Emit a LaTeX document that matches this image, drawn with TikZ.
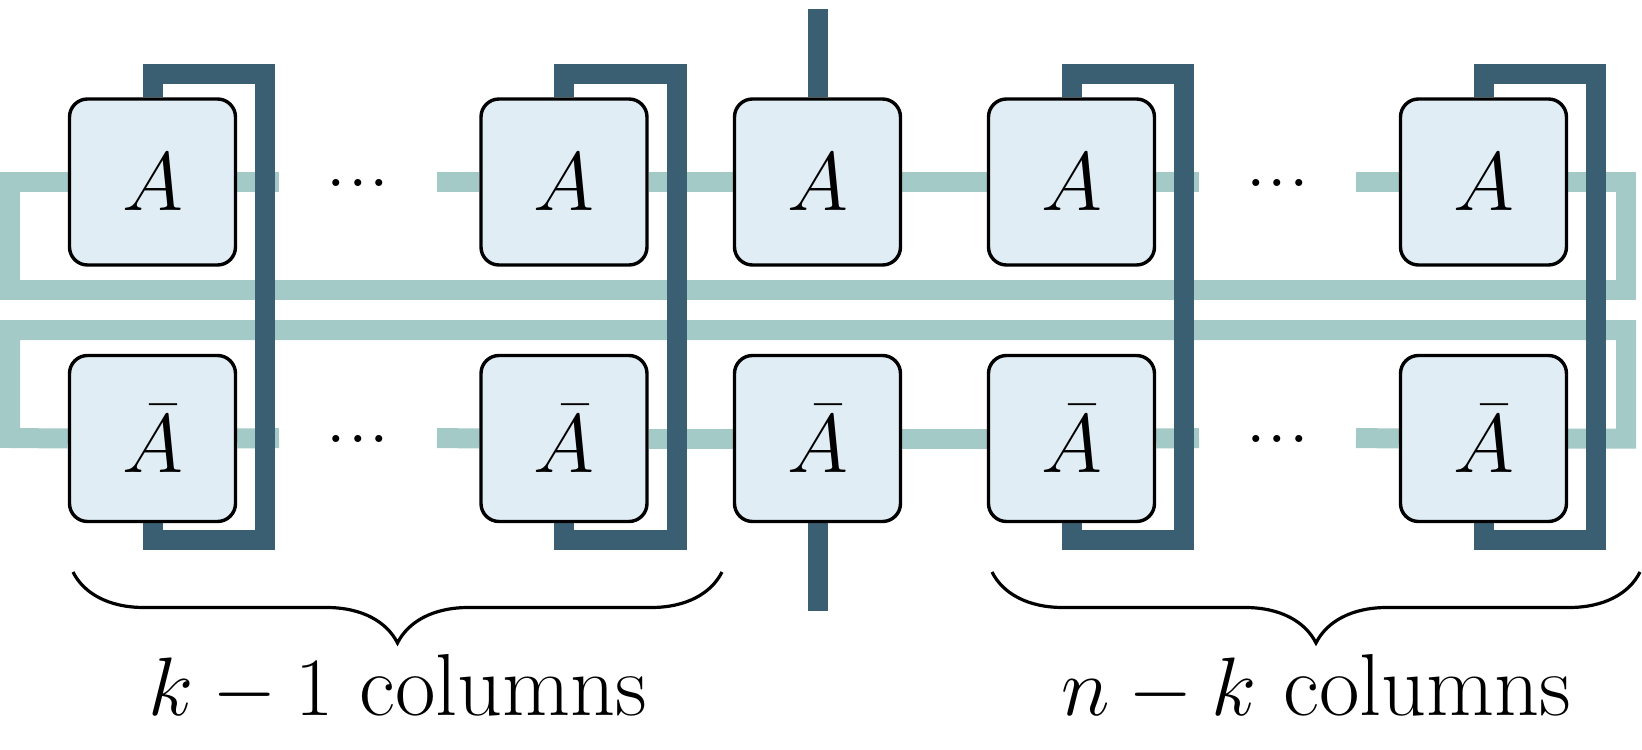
\documentclass[tikz,border=0pt]{standalone}
\usetikzlibrary{decorations.pathreplacing}
\definecolor{tealc}{HTML}{A4CAC8}
\definecolor{darkc}{HTML}{3A5F73}
\definecolor{boxfill}{HTML}{E0EDF5}
\pgfdeclarelayer{bg}
\pgfsetlayers{bg,main}
\begin{document}
\begin{tikzpicture}[x=0.25pt,y=-0.25pt,
  tbox/.style={draw=black,line width=0.85pt,fill=boxfill,rounded corners=4.5pt,
    minimum width=41.5pt,minimum height=41.5pt,inner sep=0pt,
    font=\fontsize{21.75}{25}\selectfont},
  tealline/.style={draw=tealc,line width=5pt},
  darkline/.style={draw=darkc,line width=5pt},
  bracestyle/.style={draw=black,line width=0.8pt,decorate,
    decoration={brace,mirror,amplitude=17.75pt}},
  lbl/.style={anchor=base,inner sep=0pt,font=\fontsize{22}{26}\selectfont},
  dotsn/.style={anchor=base,inner sep=0pt,font=\fontsize{21.5}{25}\selectfont}]
\useasboundingbox (0,0) rectangle (1642,750);
% boxes
\node[tbox] (t1) at (152.5,182) {$A$};
\node[tbox] (t2) at (564,182) {$A$};
\node[tbox] (t3) at (817.5,182) {$A$};
\node[tbox] (t4) at (1071.5,182) {$A$};
\node[tbox] (t5) at (1483.5,182) {$A$};
\node[tbox] (b1) at (152.5,438.5) {$\bar{A}$};
\node[tbox] (b2) at (564,438.5) {$\bar{A}$};
\node[tbox] (b3) at (817.5,438.5) {$\bar{A}$};
\node[tbox] (b4) at (1071.5,438.5) {$\bar{A}$};
\node[tbox] (b5) at (1483.5,438.5) {$\bar{A}$};
% dots
\node[dotsn] (d1) at (358,186.5) {...};
\node[dotsn] (d2) at (1277.5,186.5) {...};
\node[dotsn] (d3) at (358,442.5) {...};
\node[dotsn] (d4) at (1277.5,442.5) {...};
% free ends
\coordinate (s1) at (279,182);
\coordinate (s2) at (437,182);
\coordinate (s3) at (1199,182);
\coordinate (s4) at (1356,182);
\coordinate (u1) at (279,438);
\coordinate (u2) at (437,438);
\coordinate (u3) at (1199,438);
\coordinate (u4) at (1356,438);
\coordinate (mtop) at (817.5,9);
\coordinate (mbot) at (817.5,611);
\begin{pgfonlayer}{bg}
% teal loops
\draw[tealline] (t1.west) -- (10,182) |- (1626,290) |- (t5.east);
\draw[tealline] (b1.west) -- (10,438) |- (1626,330) |- (b5.east);
% teal stubs top
\draw[tealline] (t1.east) -- (s1);
\draw[tealline] (s2) -- (t2.west);
\draw[tealline] (t2.east) -- (t3.west);
\draw[tealline] (t3.east) -- (t4.west);
\draw[tealline] (t4.east) -- (s3);
\draw[tealline] (s4) -- (t5.west);
% teal stubs bottom
\draw[tealline] (b1.east) -- (u1);
\draw[tealline] (u2) -- (b2.west);
\draw[tealline] (b2.east) -- (b3.west);
\draw[tealline] (b3.east) -- (b4.west);
\draw[tealline] (b4.east) -- (u3);
\draw[tealline] (u4) -- (b5.west);
% dark brackets
\draw[darkline] (t1.north) |- (265,73.5) |- (152.5,540) -- (b1.south);
\draw[darkline] (t2.north) |- (676.5,73.5) |- (564,540) -- (b2.south);
\draw[darkline] (t4.north) |- (1184,73.5) |- (1071.5,540) -- (b4.south);
\draw[darkline] (t5.north) |- (1596,73.5) |- (1483.5,540) -- (b5.south);
\draw[darkline] (t3.north) -- (mtop);
\draw[darkline] (b3.south) -- (mbot);
\end{pgfonlayer}
% braces
\coordinate (bl1) at (73,572);
\coordinate (br1) at (722,572);
\coordinate (bl2) at (992,572);
\coordinate (br2) at (1640,572);
\draw[bracestyle] (bl1) -- (br1);
\draw[bracestyle] (bl2) -- (br2);
\node[lbl] (l1) at (398,715) {$k-1$ columns};
\node[lbl] (l2) at (1316.5,715) {$n-k$ columns};
\end{tikzpicture}
\end{document}
